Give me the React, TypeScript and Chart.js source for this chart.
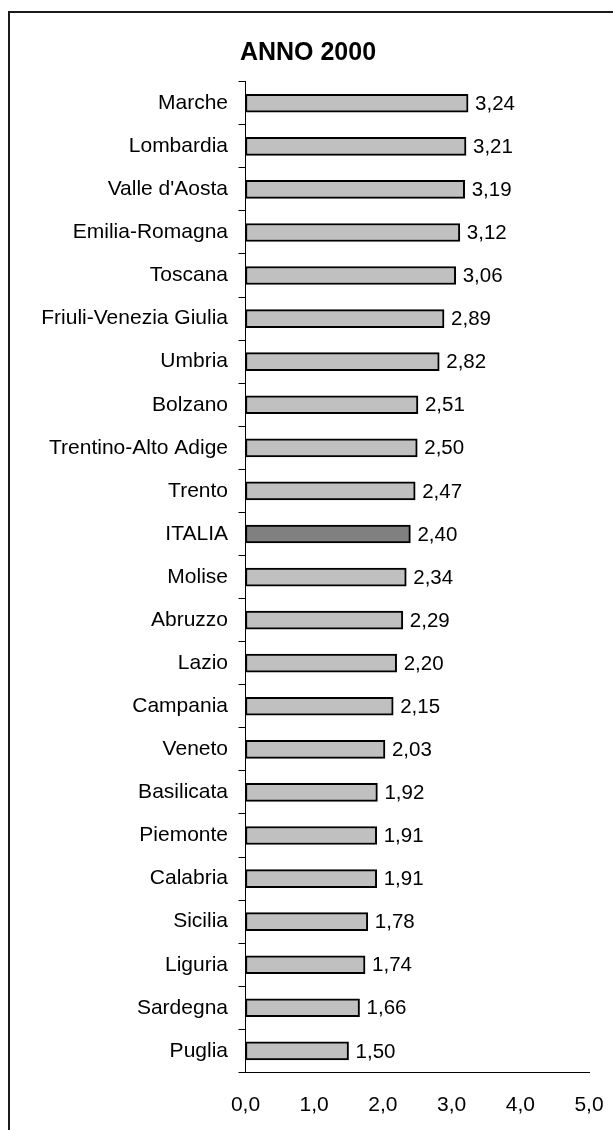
import React, { useEffect, useRef } from "react";
import { Chart, registerables } from "chart.js";

Chart.register(...registerables);

const categories: string[] = [
  "Marche",
  "Lombardia",
  "Valle d'Aosta",
  "Emilia-Romagna",
  "Toscana",
  "Friuli-Venezia Giulia",
  "Umbria",
  "Bolzano",
  "Trentino-Alto Adige",
  "Trento",
  "ITALIA",
  "Molise",
  "Abruzzo",
  "Lazio",
  "Campania",
  "Veneto",
  "Basilicata",
  "Piemonte",
  "Calabria",
  "Sicilia",
  "Liguria",
  "Sardegna",
  "Puglia",
];

const values: number[] = [
  3.24, 3.21, 3.19, 3.12, 3.06, 2.89, 2.82, 2.51, 2.5, 2.47, 2.4, 2.34, 2.29,
  2.2, 2.15, 2.03, 1.92, 1.91, 1.91, 1.78, 1.74, 1.66, 1.5,
];

const highlighted: string = "ITALIA";
const xTicks: number[] = [0, 1, 2, 3, 4, 5];
const titleText = "ANNO 2000";

const FONT = "'Liberation Sans', Arial, sans-serif";
const fmt = (v: number, d: number) => v.toFixed(d).replace(".", ",");

const CANVAS_W = 603;
const CANVAS_H = 1105;

export default function App() {
  const ref = useRef<HTMLCanvasElement | null>(null);

  useEffect(() => {
    if (!ref.current) return;

    const titlePlugin = {
      id: "customTitle",
      afterDraw(chart: any) {
        const ctx = chart.ctx;
        ctx.save();
        ctx.font = `bold 25px ${FONT}`;
        ctx.fillStyle = "#000";
        ctx.textAlign = "center";
        ctx.textBaseline = "middle";
        ctx.fillText(titleText, 298, 40);
        ctx.restore();
      },
    };

    const valueLabels = {
      id: "valueLabels",
      afterDatasetsDraw(chart: any) {
        const ctx = chart.ctx;
        const meta = chart.getDatasetMeta(0);
        ctx.save();
        ctx.font = `20.5px ${FONT}`;
        ctx.fillStyle = "#000";
        ctx.textAlign = "left";
        ctx.textBaseline = "middle";
        meta.data.forEach((bar: any, i: number) => {
          ctx.fillText(fmt(values[i], 2), bar.x + 7, bar.y + 1);
        });
        ctx.restore();
      },
    };

    const chart = new Chart(ref.current, {
      type: "bar",
      data: {
        labels: categories,
        datasets: [
          {
            data: values,
            backgroundColor: categories.map((c) =>
              c === highlighted ? "#808080" : "#c0c0c0"
            ),
            borderColor: "#000",
            borderWidth: 2,
            borderSkipped: false,
            barThickness: 18,
          },
        ],
      },
      options: {
        indexAxis: "y",
        animation: false,
        responsive: false,
        devicePixelRatio: 1,
        layout: { padding: { top: 68.7, right: 24, left: 0, bottom: 0 } },
        plugins: {
          legend: { display: false },
          tooltip: { enabled: false },
          title: { display: false },
        },
        scales: {
          x: {
            type: "linear",
            min: 0,
            max: 5,
            afterBuildTicks: (scale: any) => {
              scale.ticks = xTicks.map((v) => ({ value: v }));
            },
            afterFit: (scale: any) => {
              scale.height = CANVAS_H - 1059.4;
              scale.paddingRight = 0;
              scale.paddingLeft = 0;
            },
            grid: { display: false, drawTicks: false },
            border: { display: true, color: "#000", width: 1 },
            ticks: {
              padding: 20,
              color: "#000",
              font: { family: FONT, size: 21 },
              callback: (v: any) => fmt(Number(v), 1),
            },
          },
          y: {
            type: "category",
            afterFit: (scale: any) => {
              scale.width = 235.5;
              scale.paddingTop = 0;
              scale.paddingBottom = 0;
            },
            grid: {
              display: true,
              offset: true,
              drawOnChartArea: false,
              drawTicks: true,
              tickLength: 7,
              color: "#000",
              lineWidth: 1,
            },
            border: { display: true, color: "#000", width: 1 },
            ticks: {
              padding: 10.5,
              color: "#000",
              font: { family: FONT, size: 21 },
              autoSkip: false,
            },
          },
        },
      },
      plugins: [titlePlugin, valueLabels],
    } as any);

    return () => chart.destroy();
  }, []);

  return (
    <div
      style={{
        position: "fixed",
        left: 8,
        top: 11,
        right: 0,
        bottom: 0,
        boxSizing: "border-box",
        borderLeft: "2px solid #1a1a1a",
        borderTop: "2px solid #1a1a1a",
        overflow: "hidden",
        background: "#fff",
      }}
    >
      <canvas
        ref={ref}
        width={CANVAS_W}
        height={CANVAS_H}
        style={{ display: "block", width: CANVAS_W, height: CANVAS_H }}
      />
    </div>
  );
}
